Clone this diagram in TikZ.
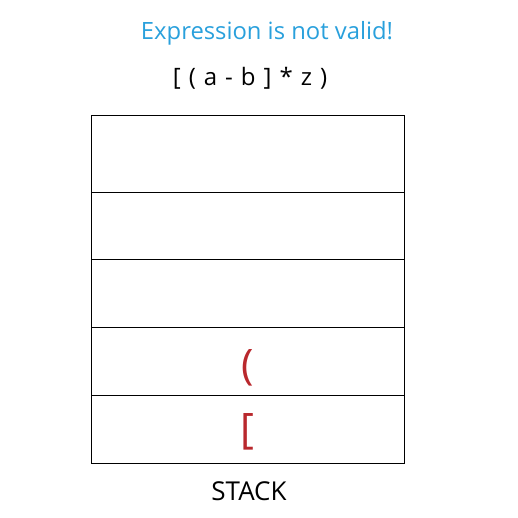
\documentclass[tikz,border=0pt]{standalone}
\usepackage{fontspec}
\setmainfont{Open Sans}
\definecolor{msgblue}{RGB}{41,160,220}
\definecolor{brred}{RGB}{185,40,45}
\begin{document}
\begin{tikzpicture}[x=1pt,y=-1pt,
  cell/.style={draw=black,line width=1.2pt,minimum width=313pt,inner sep=0pt,anchor=north west},
  redsym/.style={text=brred,font=\fontsize{42}{46}\selectfont,inner sep=0pt}]
\useasboundingbox (0,0) rectangle (518,518);
\node[text=msgblue,font=\fontsize{23.8}{28}\selectfont] (msg) at (267,33) {Expression is not valid!};
\node[font=\fontsize{24}{28}\selectfont] (expr) at (250,78) {[\,\,(\,\,a\,\,-\,\,b\,\,]\,\,*\,\,z\,\,)};
\node[cell,minimum height=77pt] (c1) at (91,115) {};
\node[cell,minimum height=67pt] (c2) at (91,192) {};
\node[cell,minimum height=68pt] (c3) at (91,259) {};
\node[cell,minimum height=68pt] (c4) at (91,327) {};
\node[cell,minimum height=68pt] (c5) at (91,395) {};
\node[redsym] (p) at (248,368) {(};
\node[redsym] (b) at (247,432) {[};
\node[font=\fontsize{26}{30}\selectfont] (lbl) at (249,491) {STACK};
\end{tikzpicture}
\end{document}
